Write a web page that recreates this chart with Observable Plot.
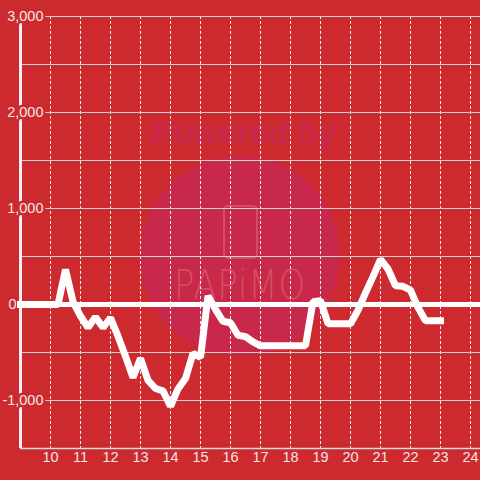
<!DOCTYPE html>
<html>
<head>
<meta charset="utf-8">
<script src="https://cdn.jsdelivr.net/npm/d3@7"></script>
<script src="https://cdn.jsdelivr.net/npm/@observablehq/plot@0.6"></script>
<style>
  html, body { margin: 0; padding: 0; background: #cc2a2f; }
  #wrap { position: relative; width: 480px; height: 480px; overflow: hidden; background: #cc2a2f; }
  #wm-circle { position: absolute; left: 140px; top: 156px; width: 200px; height: 200px; border-radius: 50%; background: #c8284a; }
  #wm-text { position: absolute; left: 0; width: 480px; top: 114px; text-align: center; font: italic bold 33px "Liberation Sans", Arial, sans-serif; color: #c9284a; padding-left: 4px; }
  #wm-phone { position: absolute; left: 223px; top: 205px; width: 31px; height: 50px; border: 2px solid #d54e5e; border-radius: 5px; }
  #wm-logo { position: absolute; left: 0; width: 480px; top: 262px; text-align: center; font: 200 40px "DejaVu Sans", sans-serif; color: #d54e5e; letter-spacing: 1px; transform: scaleX(0.85); }
  #chart { position: absolute; left: 0; top: 0; }
</style>
</head>
<body>
<div id="wrap">
  <div id="wm-circle"></div>
  <div id="wm-text">Powered by</div>
  <div id="wm-phone"></div>
  <div id="wm-logo">PAPiMO</div>
  <div id="chart"></div>
</div>
<script>
// hours of day (15-minute steps)
const hours = [
  9, 9.25, 9.5, 9.75, 10, 10.25, 10.5, 10.75, 11, 11.25, 11.5, 11.75,
  12, 12.25, 12.5, 12.75, 13, 13.25, 13.5, 13.75, 14, 14.25, 14.5, 14.75,
  15, 15.25, 15.5, 15.75, 16, 16.25, 16.5, 16.75, 17, 17.25, 17.5, 17.75,
  18, 18.25, 18.5, 18.75, 19, 19.25, 19.5, 19.75, 20, 20.25, 20.5, 20.75,
  21, 21.25, 21.5, 21.75, 22, 22.25, 22.5, 22.75, 23
];
const values = [
  0, 0, 0, 0, 0, 0, 365, 30, -120, -240, -130, -240,
  -140, -330, -540, -760, -560, -790, -875, -900, -1060, -880, -770, -510,
  -550, 90, -50, -175, -190, -320, -335, -390, -430, -430, -430, -430,
  -430, -430, -430, 30, 40, -200, -200, -200, -200, -60, 120, 290,
  470, 370, 195, 190, 150, -30, -170, -170, -170
];
const xTicks = [10, 11, 12, 13, 14, 15, 16, 17, 18, 19, 20, 21, 22, 23, 24];
const yGrid = [-1000, -500, 500, 1000, 1500, 2000, 2500, 3000];
const yTicks = [3000, 2000, 1000, -1000];
const yTickLabels = ["3,000", "2,000", "1,000", "-1,000"];
const zeroTick = [0];
const zeroLabel = ["0"];

const data = hours.map((h, i) => ({h, v: values[i]}));
const bg = "#cc2a2f";
const labelColor = "#f2e4e4";
const font = "'Liberation Sans', Arial, sans-serif";

const chart = Plot.plot({
  width: 480,
  height: 480,
  marginTop: 16,
  marginRight: 0,
  marginBottom: 32,
  marginLeft: 20,
  style: {background: "transparent", fontFamily: font, overflow: "visible"},
  x: {domain: [9, 9 + 460 / 30], axis: null},
  y: {domain: [-1500, 3000], axis: null},
  marks: [
    Plot.ruleX(xTicks, {x: d => d, stroke: "#eeeeee", strokeWidth: 1, strokeDasharray: "3,2"}),
    Plot.ruleY(yGrid, {y: d => d, stroke: "#d6d0d0", strokeWidth: 1}),
    Plot.ruleY([-1500], {y: d => d, stroke: "#dcdcdc", strokeWidth: 1.5}),
    Plot.ruleY([0], {y: d => d, stroke: "white", strokeWidth: 5}),
    Plot.ruleX([9], {x: d => d, stroke: "#f4f0f0", strokeWidth: 3}),
    Plot.line(data, {x: "h", y: "v", stroke: "white", strokeWidth: 7, strokeLinejoin: "miter", strokeLinecap: "square", curve: "linear"}),
    Plot.text(yTicks, {
      y: d => d,
      frameAnchor: "left",
      text: (d, i) => yTickLabels[i],
      textAnchor: "end",
      dx: 23,
      fill: labelColor,
      stroke: bg,
      strokeWidth: 5,
      fontSize: 14.5
    }),
    Plot.text(zeroTick, {
      y: d => d,
      frameAnchor: "left",
      text: (d, i) => zeroLabel[i],
      textAnchor: "end",
      dx: -4,
      fill: labelColor,
      fontSize: 14.5
    }),
    Plot.text(xTicks, {
      x: d => d,
      frameAnchor: "bottom",
      text: d => String(d),
      dy: 13,
      fill: labelColor,
      fontSize: 14.5
    })
  ]
});
document.getElementById("chart").appendChild(chart);
</script>
</body>
</html>
